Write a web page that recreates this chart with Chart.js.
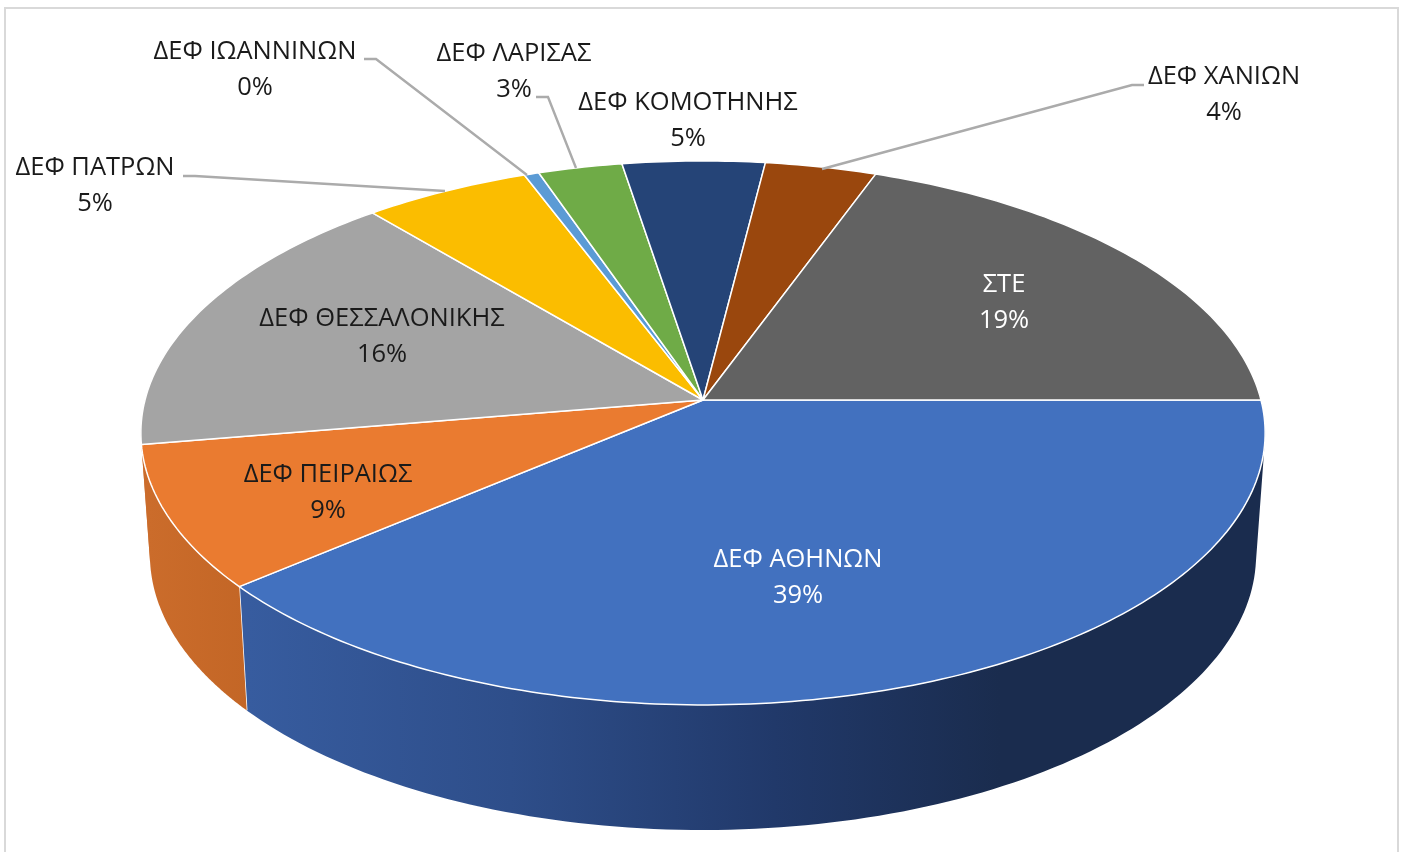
<!DOCTYPE html>
<html lang="el">
<head>
<meta charset="utf-8">
<title>ΔΕΦ</title>
<script src="https://cdn.jsdelivr.net/npm/chart.js@4/dist/chart.umd.min.js"></script>
<style>
  html, body { margin: 0; padding: 0; background: #fff; }
  canvas { display: block; }
</style>
</head>
<body>
<canvas id="chartDef" width="1405" height="852"></canvas>
<script>
const categories = ["ΔΕΦ ΑΘΗΝΩΝ", "ΔΕΦ ΠΕΙΡΑΙΩΣ", "ΔΕΦ ΘΕΣΣΑΛΟΝΙΚΗΣ", "ΔΕΦ ΠΑΤΡΩΝ", "ΔΕΦ ΙΩΑΝΝΙΝΩΝ", "ΔΕΦ ΛΑΡΙΣΑΣ", "ΔΕΦ ΚΟΜΟΤΗΝΗΣ", "ΔΕΦ ΧΑΝΙΩΝ", "ΣΤΕ"];
const shares = [38.9, 8.5, 16.4, 5.4, 0.48, 2.72, 4.6, 3.6, 19.4];
const sliceColors = ["#4271BF", "#EA7B30", "#A4A4A4", "#FBBD00", "#5B9BD5", "#6FAB47", "#254477", "#9A470D", "#626262"];

// label centres, first line baseline middle, one entry per category
const labelAt = [[798, 560], [328, 475], [382, 319], [95, 168], [255, 52], [514, 54], [688, 103], [1224, 77], [1004, 285]];
const labelGap = 36;
const labelInk = ["#fff", "#1a1a1a", "#1a1a1a", "#1a1a1a", "#1a1a1a", "#1a1a1a", "#1a1a1a", "#1a1a1a", "#fff"];
const leaders = [
    [[183, 176], [195, 176], [445, 191]],
    [[364, 59], [376, 59], [527, 175]],
    [[536, 97], [548, 97], [576, 168]],
    [[1144, 85], [1132, 85], [822, 169]]
];

// tilted disc: the unit circle goes through a perspective map, so the apex sits above the ellipse centre
const tilt = -0.121;
const topFace = { cx: 703, cy: 400, a: 558, b: 268 };
const lowFace = { cx: 703, cy: 521.7, a: 549, b: 271 };

function project(face, angle) {
    const u = Math.cos(angle), v = Math.sin(angle);
    const w = 1 + tilt * v;
    return [face.cx + face.a * u / w, face.cy + face.b * v / w];
}

function wallFill(ctx, index) {
    if (index === 0) {
        const g = ctx.createLinearGradient(248, 0, 1000, 0);
        g.addColorStop(0, "#375C9F");
        g.addColorStop(0.35, "#2E4E8A");
        g.addColorStop(0.7, "#21396A");
        g.addColorStop(1, "#1A2C4E");
        return g;
    }
    const g = ctx.createLinearGradient(148, 0, 248, 0);
    g.addColorStop(0, "#CB6C2B");
    g.addColorStop(1, "#C36626");
    return g;
}

function quadArea(p) {
    let area = 0;
    p.forEach((q, k) => {
        const r = p[(k + 1) % p.length];
        area += q[0] * r[1] - r[0] * q[1];
    });
    return area;
}

const disc3d = {
    id: "disc3d",
    beforeDraw(chart) {
        const ctx = chart.ctx;
        ctx.save();
        ctx.strokeStyle = "#D9D9D9";
        ctx.lineWidth = 2;
        ctx.beginPath();
        ctx.moveTo(5, 852);
        ctx.lineTo(5, 8);
        ctx.lineTo(1398, 8);
        ctx.lineTo(1398, 852);
        ctx.stroke();
        ctx.restore();
    },
    beforeDatasetDraw(chart) {
        const ctx = chart.ctx;
        const arcs = chart.getDatasetMeta(0).data;
        ctx.save();
        ctx.lineJoin = "round";

        // side wall, only the slices that face the viewer
        arcs.forEach((arc, i) => {
            if (arc.startAngle > Math.PI) return;
            const end = Math.min(arc.endAngle, Math.PI + 0.2);
            const step = (end - arc.startAngle) / 120;
            // one path with many quads, so no seams show between them
            ctx.beginPath();
            for (let n = 0; n < 120; n++) {
                const t0 = arc.startAngle + n * step, t1 = t0 + step;
                const p = [project(topFace, t0), project(topFace, t1), project(lowFace, t1), project(lowFace, t0)];
                // same winding for all, or the overlap at the silhouette cancels out
                if (quadArea(p) < 0) p.reverse();
                p.forEach((q, k) => k ? ctx.lineTo(q[0], q[1]) : ctx.moveTo(q[0], q[1]));
                ctx.closePath();
            }
            ctx.fillStyle = wallFill(ctx, i);
            ctx.fill();
            if (i === 0) {
                const a = project(topFace, arc.endAngle), b = project(lowFace, arc.endAngle);
                ctx.strokeStyle = "#fff";
                ctx.lineWidth = 1.5;
                ctx.beginPath();
                ctx.moveTo(a[0], a[1]);
                ctx.lineTo(b[0], b[1]);
                ctx.stroke();
            }
        });

        // top face
        arcs.forEach((arc, i) => {
            ctx.beginPath();
            ctx.moveTo(topFace.cx, topFace.cy);
            const steps = Math.max(4, Math.ceil((arc.endAngle - arc.startAngle) * 60));
            for (let n = 0; n <= steps; n++) {
                const q = project(topFace, arc.startAngle + (arc.endAngle - arc.startAngle) * n / steps);
                ctx.lineTo(q[0], q[1]);
            }
            ctx.closePath();
            ctx.fillStyle = sliceColors[i];
            ctx.fill();
            ctx.strokeStyle = "#fff";
            ctx.lineWidth = 1.5;
            ctx.stroke();
        });
        ctx.restore();
        return false;
    },
    afterDraw(chart) {
        const ctx = chart.ctx;
        ctx.save();
        ctx.strokeStyle = "#ABABAB";
        ctx.lineWidth = 2.4;
        leaders.forEach(line => {
            ctx.beginPath();
            line.forEach((q, k) => k ? ctx.lineTo(q[0], q[1]) : ctx.moveTo(q[0], q[1]));
            ctx.stroke();
        });
        const total = shares.reduce((s, v) => s + v, 0);
        ctx.font = '25.5px "Open Sans"';
        ctx.textAlign = "center";
        ctx.textBaseline = "middle";
        categories.forEach((name, i) => {
            ctx.fillStyle = labelInk[i];
            ctx.fillText(name, labelAt[i][0], labelAt[i][1]);
            ctx.fillText(Math.round(shares[i] / total * 100) + "%", labelAt[i][0], labelAt[i][1] + labelGap);
        });
        ctx.restore();
    }
};

new Chart(document.getElementById("chartDef"), {
    type: "pie",
    data: {
        labels: categories,
        datasets: [{ data: shares, backgroundColor: sliceColors }]
    },
    options: {
        responsive: false,
        animation: false,
        rotation: 90,
        plugins: {
            legend: { display: false },
            tooltip: { enabled: false }
        }
    },
    plugins: [disc3d]
});
</script>
</body>
</html>
